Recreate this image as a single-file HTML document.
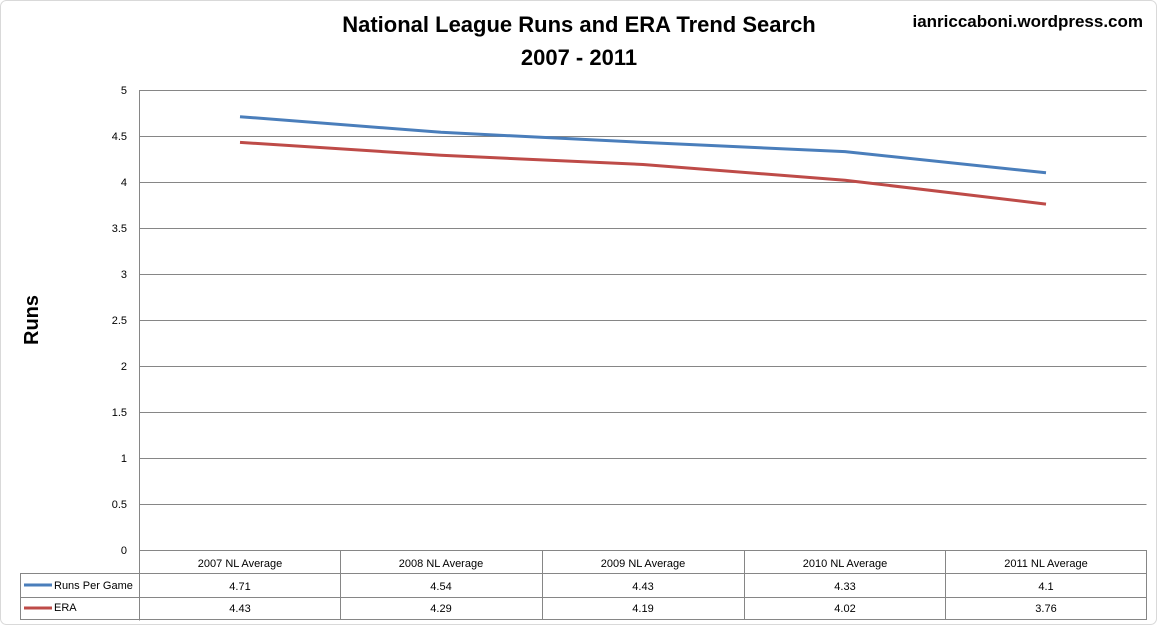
<!DOCTYPE html>
<html><head><meta charset="utf-8"><style>
body{margin:0;background:#fff;}
svg{display:block;}
text{font-family:"Liberation Sans",sans-serif;}
</style></head><body>
<svg width="1157" height="626" viewBox="0 0 1157 626" xmlns="http://www.w3.org/2000/svg">
<rect x="0" y="0" width="1157" height="626" fill="#fff"/>
<rect x="0.5" y="0.5" width="1156" height="624" rx="6" fill="none" stroke="#d9d9d9"/>
<text x="579" y="32" font-size="22" font-weight="bold" text-anchor="middle">National League Runs and ERA Trend Search</text>
<text x="579" y="65" font-size="22" font-weight="bold" text-anchor="middle">2007 - 2011</text>
<text x="1143" y="27" font-size="17" font-weight="bold" text-anchor="end">ianriccaboni.wordpress.com</text>
<text transform="translate(38,320) rotate(-90)" font-size="20" font-weight="bold" text-anchor="middle">Runs</text>
<g stroke="#868686" stroke-width="1" fill="none">
<path d="M139.5 90.5H1146.5M139.5 136.5H1146.5M139.5 182.5H1146.5M139.5 228.5H1146.5M139.5 274.5H1146.5M139.5 320.5H1146.5M139.5 366.5H1146.5M139.5 412.5H1146.5M139.5 458.5H1146.5M139.5 504.5H1146.5"/>
<path d="M139.5 90V620.5M20.5 573.5H1146.5M20.5 597.5H1146.5M20.5 619.5H1146.5M139.5 550.5H1146.5M20.5 573V620M1146.5 550V620M340.5 550V620M542.5 550V620M744.5 550V620M945.5 550V620"/>
</g>
<g font-size="11" text-anchor="end" fill="#000">
<text x="127" y="94">5</text><text x="127" y="140">4.5</text><text x="127" y="186">4</text><text x="127" y="232">3.5</text><text x="127" y="278">3</text><text x="127" y="324">2.5</text><text x="127" y="370">2</text><text x="127" y="416">1.5</text><text x="127" y="462">1</text><text x="127" y="508">0.5</text><text x="127" y="554">0</text>
</g>
<g font-size="11" text-anchor="middle">
<text x="240" y="567">2007 NL Average</text><text x="441" y="567">2008 NL Average</text><text x="643" y="567">2009 NL Average</text><text x="845" y="567">2010 NL Average</text><text x="1046" y="567">2011 NL Average</text>
<text x="240" y="590">4.71</text><text x="441" y="590">4.54</text><text x="643" y="590">4.43</text><text x="845" y="590">4.33</text><text x="1046" y="590">4.1</text>
<text x="240" y="612">4.43</text><text x="441" y="612">4.29</text><text x="643" y="612">4.19</text><text x="845" y="612">4.02</text><text x="1046" y="612">3.76</text>
<text x="54" y="589" text-anchor="start">Runs Per Game</text>
<text x="54" y="611" text-anchor="start">ERA</text>
</g>
<line x1="24" y1="585" x2="52" y2="585" stroke="#4a7ebb" stroke-width="3"/>
<line x1="24" y1="608" x2="52" y2="608" stroke="#be4b48" stroke-width="3"/>
<polyline fill="none" stroke="#4a7ebb" stroke-width="3" stroke-linejoin="round" points="240,116.7 441,132.3 643,142.4 845,151.6 1046,172.8"/>
<polyline fill="none" stroke="#be4b48" stroke-width="3" stroke-linejoin="round" points="240,142.4 441,155.3 643,164.5 845,180.2 1046,204.1"/>
</svg>
</body></html>
